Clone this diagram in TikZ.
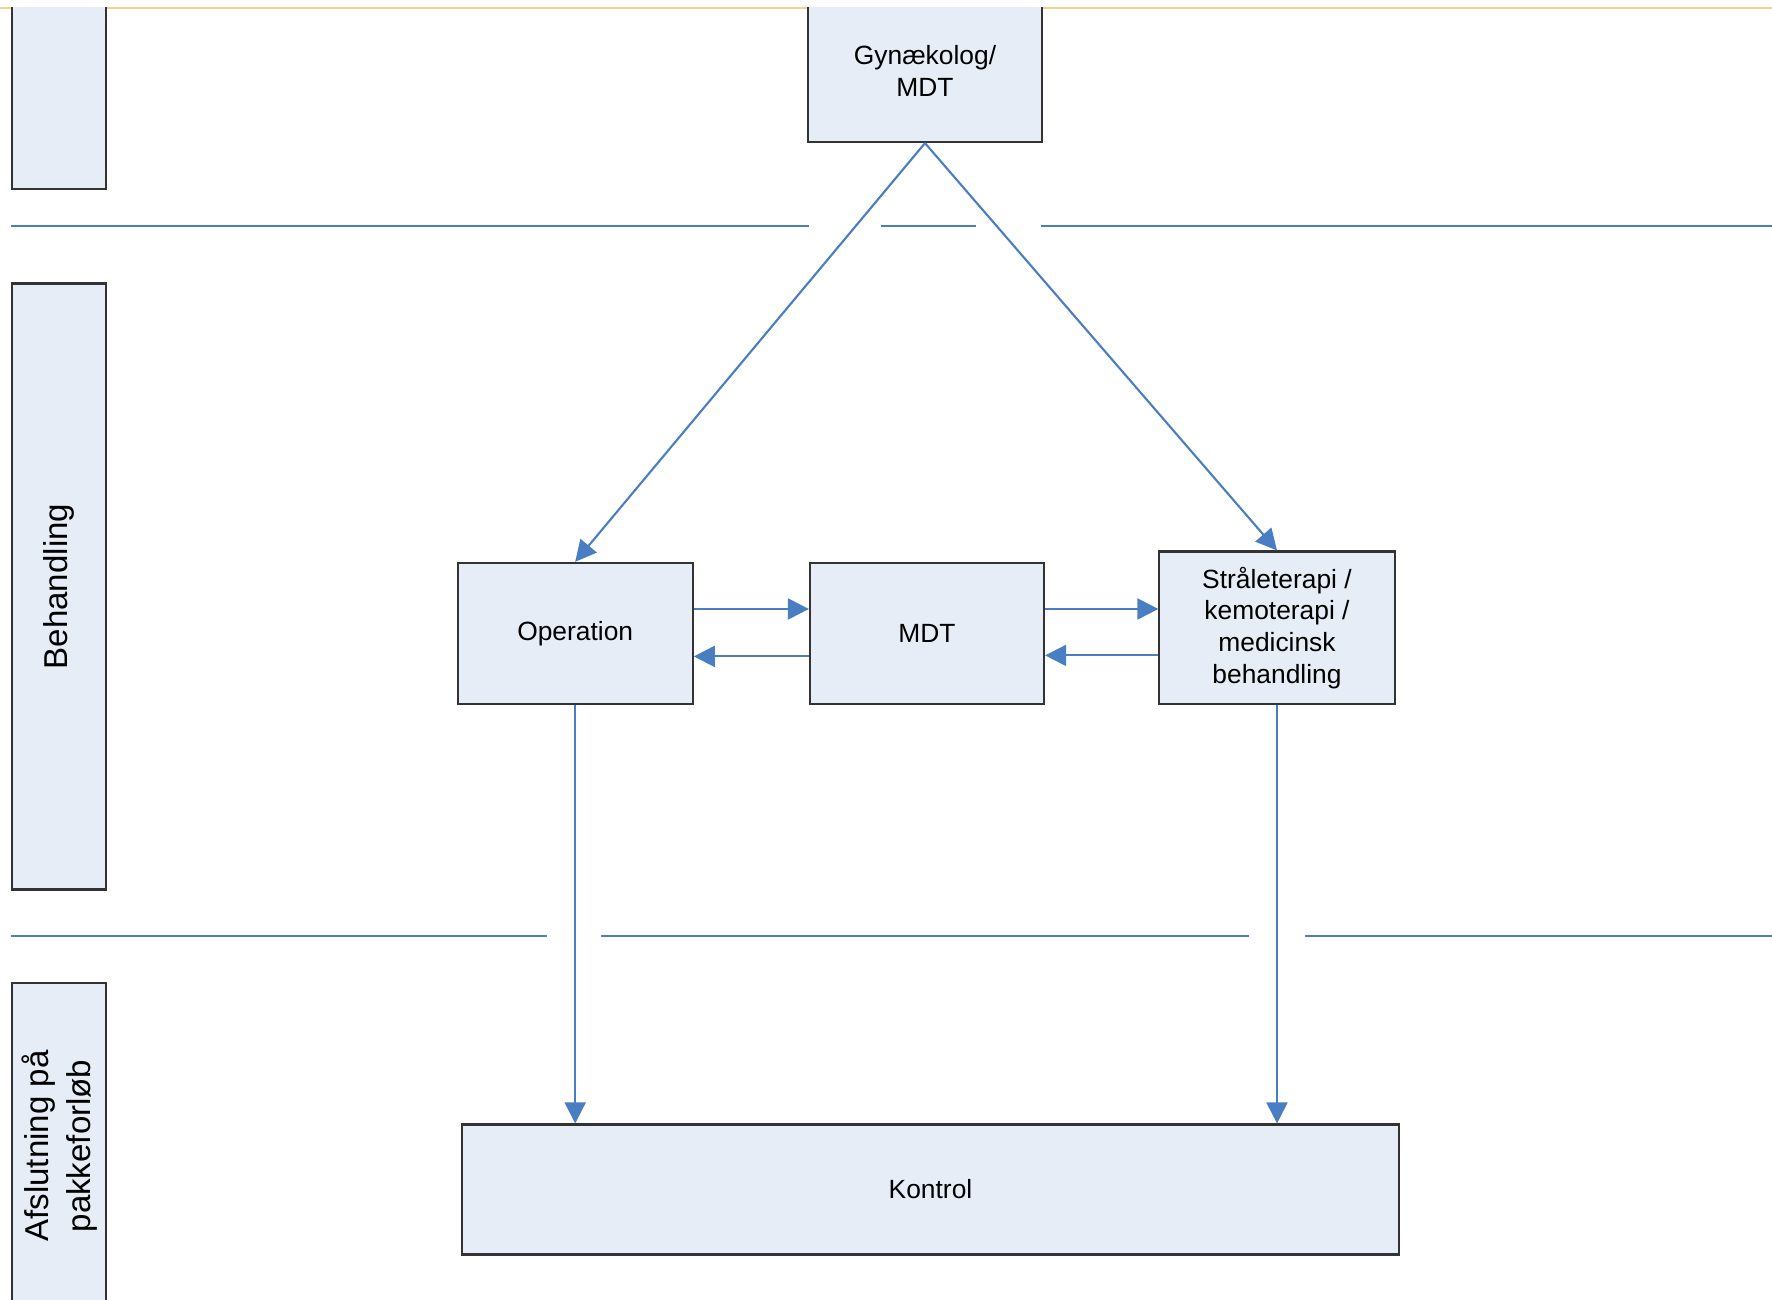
\documentclass[tikz,border=0pt]{standalone}
\usepackage{fontspec}
\setmainfont{Liberation Sans}
\usepackage{tikz}
\usetikzlibrary{calc,positioning}
\usetikzlibrary{arrows.meta}
\usepackage{xcolor}
\definecolor{boxfill}{HTML}{E7EDF7}
\definecolor{flowblue}{HTML}{4A7EC2}
\definecolor{pageline}{HTML}{F3D38A}

\begin{document}
\begin{tikzpicture}[x=0.01cm, y=-0.01cm,
	box/.style = {draw=black!80, fill=boxfill, line width=0.6pt, inner sep=2pt, align=center, font=\fontsize{7.5}{9}\selectfont},
	lane/.style = {draw=black!80, fill=boxfill, line width=0.6pt, rotate=90, minimum height=0.94cm, inner sep=0pt, align=center, font=\fontsize{9.4}{12}\selectfont},
	arr/.style = {draw=flowblue, line width=0.6pt, -{Triangle[length=0.21cm, width=0.21cm]}},
	sep/.style = {draw=flowblue, line width=0.8pt}]
		\useasboundingbox (0,0) rectangle (1772,1300);
		% page edge
		\draw[pageline, line width=0.6pt] (0,8) -- (1772,8);
		\clip (0,8) rectangle (1772,1300);
		% swim lanes
		\node[lane, minimum width=2.0cm] (lane1) at (59.3,88.7) {};
		\node[lane, minimum width=6.057cm] (behandling) at (59.3,586.5) {Behandling};
		\node[lane, minimum width=3.26cm] (afslutning) at (59.3,1146) {Afslutning på\\pakkeforløb};
		% lane dividers
		\draw[sep] (11,226) -- (809,226);
		\draw[sep] (881,226) -- (976,226);
		\draw[sep] (1041,226) -- (1772,226);
		\draw[sep] (11,936) -- (547,936);
		\draw[sep] (601,936) -- (1249,936);
		\draw[sep] (1305,936) -- (1772,936);
		% steps
		\node[box, minimum width=2.34cm, minimum height=1.42cm] (gyn) at (925,71) {Gynækolog/\\MDT};
		\node[box, minimum width=2.35cm, minimum height=1.41cm] (op) at (575.2,633.4) {Operation};
		\node[box, minimum width=2.34cm, minimum height=1.41cm] (mdt) [right=1.15cm of op] {MDT};
		\node[box, minimum width=2.35cm, minimum height=1.525cm] (stra) at (1277,627.8) {Stråleterapi /\\kemoterapi /\\medicinsk\\behandling};
		\node[box, minimum width=9.37cm, minimum height=1.30cm] (kontrol) at (930.5,1189.5) {Kontrol};
		\draw[arr] (gyn.south) -- (op.north);
		\draw[arr] (gyn.south) -- (stra.north);
		\draw[arr] ([yshift=0.244cm]op.east) -- ([yshift=0.244cm]mdt.west);
		\draw[arr] ([yshift=-0.23cm]mdt.west) -- ([yshift=-0.23cm]op.east);
		\draw[arr] ([yshift=0.244cm]mdt.east) -- ([yshift=0.244cm]mdt.east -| stra.west);
		\draw[arr] ([yshift=-0.22cm]mdt.east -| stra.west) -- ([yshift=-0.22cm]mdt.east);
		\draw[arr] (op.south) -- (op.south |- kontrol.north);
		\draw[arr] (stra.south) -- (stra.south |- kontrol.north);
	\end{tikzpicture}
\end{document}
